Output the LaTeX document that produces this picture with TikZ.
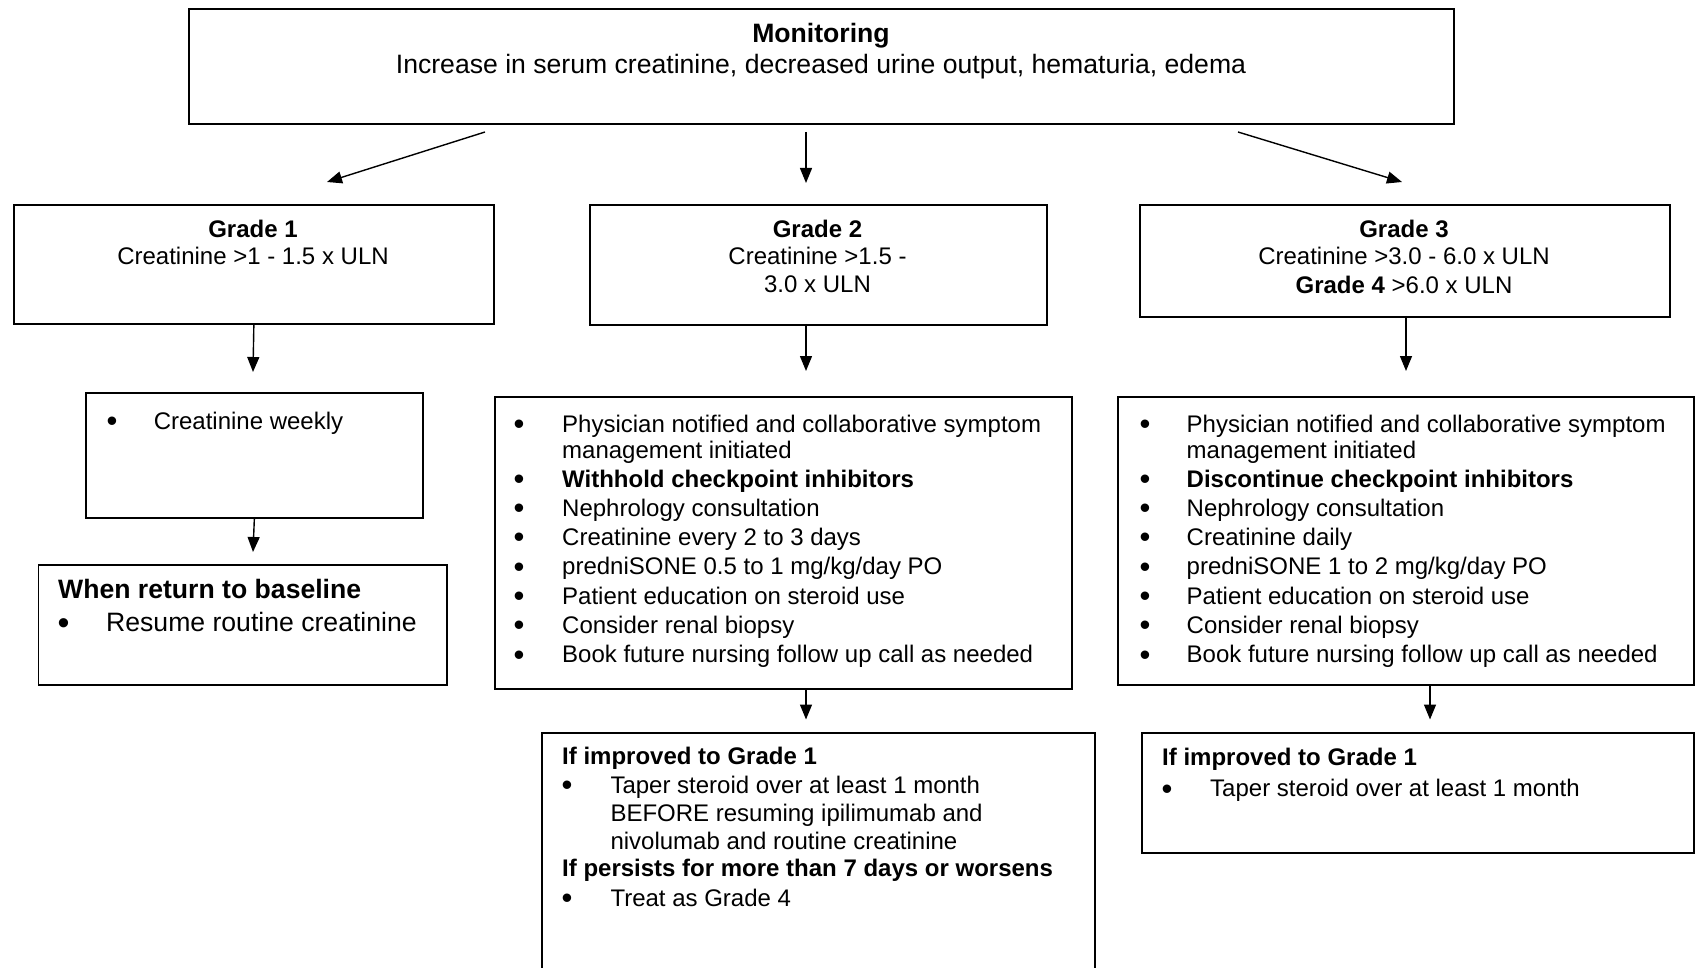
\documentclass[tikz,border=0pt]{standalone}
\usepackage{fontspec}
\setmainfont{Liberation Sans}
\usetikzlibrary{arrows.meta}
\newcommand\fsn{\fontsize{24}{29}\selectfont}
\newcommand\fsl{\fontsize{26.6}{32}\selectfont}
\newcommand\fsbul{\fontsize{31}{31}\selectfont}
\newcommand\fsbull{\fontsize{34}{34}\selectfont}
\begin{document}
\begin{tikzpicture}[x=1pt,y=-1pt,
 box/.style={draw, line width=1.7pt, inner sep=0pt, anchor=north west},
 ct/.style={font=\fsn, anchor=base, inner sep=0pt},
 ctl/.style={font=\fsl, anchor=base, inner sep=0pt},
 tx/.style={font=\fsn, anchor=base west, inner sep=0pt},
 bl/.style={font=\fsbul, anchor=base, inner sep=0pt, yshift=-2.3pt},
 txl/.style={font=\fsl, anchor=base west, inner sep=0pt},
 bll/.style={font=\fsbull, anchor=base, inner sep=0pt, yshift=-2.5pt},
 arr/.style={line width=1.4pt, -{Triangle[length=15pt,width=12pt]}}]
\useasboundingbox (0,0) rectangle (1695,968);
\clip (0,0) rectangle (1695,968);

% boxes
\node[box, minimum width=1265pt, minimum height=115pt] (mon) at (188,8) {};
\node[box, minimum width=480pt, minimum height=119.5pt] (g1) at (13,204) {};
\node[box, minimum width=457pt, minimum height=119.5pt] (g2) at (589,204.5) {};
\node[box, minimum width=530pt, minimum height=112pt] (g3) at (1139,204) {};
\node[box, minimum width=337pt, minimum height=125pt] (wk) at (85,392) {};
\node[box, minimum width=408.5pt, minimum height=120pt] (bs) at (37.5,564) {};
\node[box, minimum width=577pt, minimum height=292pt] (a2) at (494,396) {};
\node[box, minimum width=576pt, minimum height=288pt] (a3) at (1117,396) {};
\node[box, minimum width=553pt, minimum height=280pt] (f2) at (541,732) {};
\node[box, minimum width=552pt, minimum height=120pt] (f3) at (1141,732) {};

% monitoring text
\node[ctl] (mont) at (821,42.5) {\bfseries Monitoring};
\node[ctl] (monl) at (821,74) {Increase in serum creatinine, decreased urine output, hematuria, edema};

% grade boxes text
\node[ct] (g1a) at (253,237.3) {\bfseries Grade 1};
\node[ct] (g1b) at (253,265) {Creatinine >1 - 1.5 x ULN};
\node[ct] (g2a) at (817.5,237.3) {\bfseries Grade 2};
\node[ct] (g2b) at (817.5,265) {Creatinine >1.5 -};
\node[ct] (g2c) at (817.5,293) {3.0 x ULN};
\node[ct] (g3a) at (1404,237.3) {\bfseries Grade 3};
\node[ct] (g3b) at (1404,265) {Creatinine >3.0 - 6.0 x ULN};
\node[ct] (g3c) at (1404,293.3) {\textbf{Grade 4} >6.0 x ULN};

% weekly
\node[bl] (wkb) at (112,429) {\textbullet};
\node[tx] (wkt) at (153.6,429) {Creatinine weekly};

% baseline box
\node[txl] (bst) at (58,598.3) {\bfseries When return to baseline};
\node[bll] (bsb) at (63.6,631.7) {\textbullet};
\node[txl] (bsl) at (106,631.7) {Resume routine creatinine};

% grade 2 actions
\foreach \yy [count=\i] in {432,487,516.3,545.6,574.9,604.2,633.5,662.8}
  \node[bl] (a2b\i) at (519,\yy) {\textbullet};
\node[tx] (a2t1) at (562,432) {Physician notified and collaborative symptom};
\node[tx] (a2t1b) at (562,458) {management initiated};
\node[tx] (a2t2) at (562,487) {\bfseries Withhold checkpoint inhibitors};
\node[tx] (a2t3) at (562,516.3) {Nephrology consultation};
\node[tx] (a2t4) at (562,545.6) {Creatinine every 2 to 3 days};
\node[tx] (a2t5) at (562,574.9) {predniSONE 0.5 to 1 mg/kg/day PO};
\node[tx] (a2t6) at (562,604.2) {Patient education on steroid use};
\node[tx] (a2t7) at (562,633.5) {Consider renal biopsy};
\node[tx] (a2t8) at (562,662.8) {Book future nursing follow up call as needed};

% grade 3 actions
\foreach \yy [count=\i] in {432,487,516.3,545.6,574.9,604.2,633.5,662.8}
  \node[bl] (a3b\i) at (1145,\yy) {\textbullet};
\node[tx] (a3t1) at (1186.5,432) {Physician notified and collaborative symptom};
\node[tx] (a3t1b) at (1186.5,458) {management initiated};
\node[tx] (a3t2) at (1186.5,487) {\bfseries Discontinue checkpoint inhibitors};
\node[tx] (a3t3) at (1186.5,516.3) {Nephrology consultation};
\node[tx] (a3t4) at (1186.5,545.6) {Creatinine daily};
\node[tx] (a3t5) at (1186.5,574.9) {predniSONE 1 to 2 mg/kg/day PO};
\node[tx] (a3t6) at (1186.5,604.2) {Patient education on steroid use};
\node[tx] (a3t7) at (1186.5,633.5) {Consider renal biopsy};
\node[tx] (a3t8) at (1186.5,662.8) {Book future nursing follow up call as needed};

% grade 2 follow-up
\node[tx] (f2h1) at (562,764.3) {\bfseries If improved to Grade 1};
\node[bl] (f2b1) at (567,793.3) {\textbullet};
\node[tx] (f2t1) at (610.3,793.3) {Taper steroid over at least 1 month};
\node[tx] (f2t1b) at (610.3,821.7) {BEFORE resuming ipilimumab and};
\node[tx] (f2t1c) at (610.3,849.3) {nivolumab and routine creatinine};
\node[tx] (f2h2) at (562,876.7) {\bfseries If persists for more than 7 days or worsens};
\node[bl] (f2b2) at (567,906) {\textbullet};
\node[tx] (f2t2) at (610.3,906) {Treat as Grade 4};

% grade 3 follow-up
\node[tx] (f3h1) at (1162,765) {\bfseries If improved to Grade 1};
\node[bl] (f3b1) at (1167,796.7) {\textbullet};
\node[tx] (f3t1) at (1210,796.7) {Taper steroid over at least 1 month};

% arrow end coordinates
\coordinate (m1s) at (485,132);  \coordinate (m1e) at (327,182);
\coordinate (m2s) at (806,132);  \coordinate (m2e) at (806,183);
\coordinate (m3s) at (1238,132); \coordinate (m3e) at (1402,182);
\coordinate (k1e) at (253,372);
\coordinate (k2e) at (253,552);
\coordinate (k3s) at (806,324);  \coordinate (k3e) at (806,371);
\coordinate (k4s) at (1406,316); \coordinate (k4e) at (1406,371);
\coordinate (k5s) at (806,688);  \coordinate (k5e) at (806,719.5);
\coordinate (k6s) at (1430,684); \coordinate (k6e) at (1430,719.5);

\draw[arr] (m1s) -- (m1e);
\draw[arr] (m2s) -- (m2e);
\draw[arr] (m3s) -- (m3e);
\draw[arr] (g1.south) -- (k1e);
\draw[arr] (wk.south) -- (k2e);
\draw[arr] (k3s) -- (k3e);
\draw[arr] (k4s) -- (k4e);
\draw[arr] (k5s) -- (k5e);
\draw[arr] (k6s) -- (k6e);
\end{tikzpicture}
\end{document}
